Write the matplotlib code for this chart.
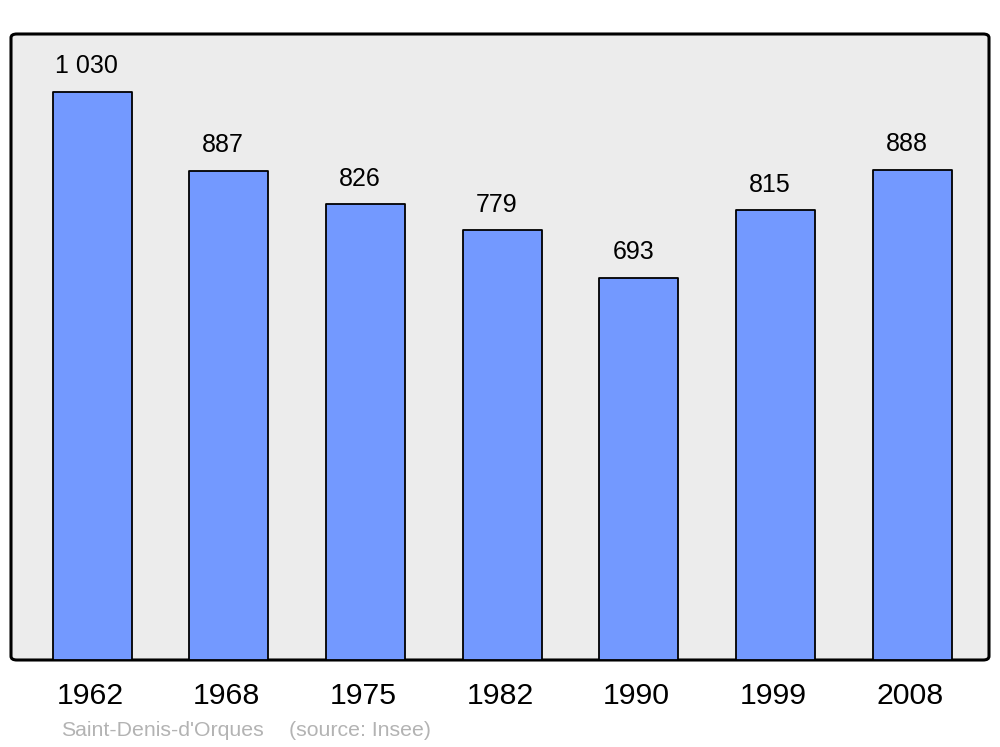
import matplotlib

matplotlib.use("Agg")
import matplotlib.pyplot as plt
from matplotlib.patches import FancyBboxPatch
from matplotlib.transforms import ScaledTranslation

plt.rcParams["font.family"] = ["Liberation Sans", "DejaVu Sans"]

years = ["1962", "1968", "1975", "1982", "1990", "1999", "2008"]
population = [1030, 887, 826, 779, 693, 815, 888]
commune = "Saint-Denis-d'Orques"
source = "(source: Insee)"

BAR_COLOR = "#7399ff"
BG_COLOR = "#ececec"


def fmt_thousands(v: int) -> str:
    return f"{v:,}".replace(",", " ")


fig = plt.figure(figsize=(10, 7.47), dpi=100)
left, right = 11 / 1000, 989 / 1000
bottom, top = (747 - 660) / 747, (747 - 34) / 747
ax = fig.add_axes([left, bottom, right - left, top - bottom])

# rounded frame drawn behind the bars
frame = FancyBboxPatch(
    (0, 0), 1, 1,
    boxstyle="round,pad=0,rounding_size=0.006",
    transform=ax.transAxes,
    facecolor=BG_COLOR,
    edgecolor="black",
    linewidth=2.2,
    zorder=0,
    clip_on=False,
)
ax.add_patch(frame)
ax.set_facecolor("none")
for spine in ax.spines.values():
    spine.set_visible(False)

x = list(range(len(years)))
bars = ax.bar(x, population, width=0.578, color=BAR_COLOR, edgecolor="black",
              linewidth=1.3, zorder=2)
for rect in bars:
    rect.set_joinstyle("round")

# value labels sit a little left of the bar centre, like the original
for xi, v in zip(x, population):
    ax.annotate(fmt_thousands(v), (xi, v), xytext=(-4, 18.6), textcoords="offset points",
                ha="center", va="center", fontsize=18, color="black")

ax.set_xlim(-0.593, 6.563)
ax.set_ylim(0, 1135)
ax.set_yticks([])
ax.set_xticks(x)
ax.set_xticklabels(years, fontsize=21.8)
ax.tick_params(axis="x", length=0, pad=16)
shift = ScaledTranslation(-2 / 100, 0, fig.dpi_scale_trans)
for lab in ax.get_xticklabels():
    lab.set_transform(lab.get_transform() + shift)

fig.text(61 / 1000, 1 - 731 / 747, commune, fontsize=15.3, color="#b3b3b3", va="center", ha="left")
fig.text(289 / 1000, 1 - 731 / 747, source, fontsize=15.3, color="#b3b3b3", va="center", ha="left")

fig.savefig("out.png", dpi=100)
